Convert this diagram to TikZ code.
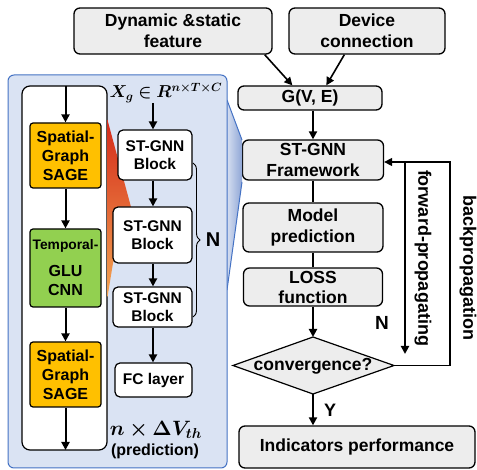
\documentclass[tikz,border=0pt]{standalone}
\usepackage{fontspec}
\setmainfont{Liberation Sans}
\usepackage{bm}
\usetikzlibrary{arrows.meta,decorations.pathreplacing,calc}
\definecolor{boxgray}{HTML}{EDEDED}
\definecolor{panelfill}{HTML}{DAE3F3}
\definecolor{panelline}{HTML}{4472C4}
\definecolor{sagefill}{HTML}{FFC000}
\definecolor{tempfill}{HTML}{92D050}
\definecolor{zoomlight}{HTML}{D5DEF0}
\definecolor{zoomdark}{HTML}{8FA6D6}
\definecolor{redtop}{HTML}{D42A1A}
\definecolor{redmid}{HTML}{E0452A}
\definecolor{orangebot}{HTML}{F3A552}
\begin{document}
\begin{tikzpicture}[x=1pt,y=-1pt,
 >={Triangle[length=8pt,width=8pt]},
 gbox/.style={draw,line width=1.3pt,rounded corners=6pt,fill=boxgray,align=center,inner sep=0pt,font=\bfseries\fontsize{17.5}{21}\selectfont},
 wbox/.style={draw,line width=1.2pt,rounded corners=5pt,fill=white,align=center,inner sep=0pt,font=\bfseries\fontsize{15.5}{18}\selectfont},
 cbox/.style={draw,line width=1.2pt,rounded corners=3pt,align=center,inner sep=0pt,minimum width=71pt,font=\bfseries\fontsize{16}{19}\selectfont},
 arr/.style={->,line width=2pt},
 lbl/.style={font=\bfseries\fontsize{18}{20}\selectfont,inner sep=0pt}
]
\useasboundingbox (0,0) rectangle (477,470);

% ---------- right column ----------
\node[gbox,minimum width=198pt,minimum height=46pt] (dyn) at (173,31) {Dynamic \&static\\feature};
\node[gbox,minimum width=156pt,minimum height=46pt] (dev) at (367,31) {Device\\connection};
\node[gbox,minimum width=144pt,minimum height=24pt] (gve) at (310,98) {G(V, E)};
\node[gbox,minimum width=141pt,minimum height=40pt] (fw) at (313,160) {ST-GNN\\Framework};
\node[gbox,minimum width=140pt,minimum height=49pt] (mp) at (313,227.5) {Model\\prediction};
\node[gbox,minimum width=139pt,minimum height=38pt,font=\bfseries\fontsize{17.5}{20}\selectfont] (loss) at (313,287) {LOSS\\function};

\coordinate (dT) at (313,337);
\coordinate (dB) at (313,394);
\coordinate (dL) at (233,365.5);
\coordinate (dR) at (394,365.5);
\draw[line width=1.2pt,fill=boxgray] (dT) -- (dR) -- (dB) -- (dL) -- cycle;
\node[lbl,font=\bfseries\fontsize{17.5}{20}\selectfont] (conv) at (313,366) {convergence?};

\node[gbox,minimum width=236pt,minimum height=42pt] (ind) at (357,447) {Indicators performance};

\draw[arr,line width=1.6pt] ($(dyn.south east)+(-8,0)$) -- ($(gve.north west)+(55,0)$);
\draw[arr,line width=1.6pt] ($(dev.south west)+(56,0)$) -- ($(gve.north west)+(89,0)$);
\draw[arr] (gve.south -| fw.north) -- (fw.north);
\draw[line width=2pt] (fw.south) -- (mp.north);
\draw[line width=2pt] (mp.south) -- (loss.north);
\draw[arr] (loss.south) -- (dT);
\draw[arr] (dB) -- (dB |- ind.north);
\node[lbl] (ylab) at (330,410) {Y};

\coordinate (bp1) at (450,365.5);
\coordinate (bp2) at (450,162);
\draw[->,line width=1.3pt] (dR) -- (bp1) -- (bp2) -- (bp2 -| fw.east);
\coordinate (fp1) at (405,162);
\coordinate (fp2) at (405,354);
\draw[arr,line width=2.2pt] (fp1) -- (fp2);
\node[lbl,rotate=-90] (fplab) at (423,258) {forward-propagating};
\node[lbl,rotate=-90] (bplab) at (468,268) {backpropagation};
\node[lbl,font=\bfseries\fontsize{19}{20}\selectfont] (nlab) at (382,323) {N};

% ---------- left panel ----------
\shade[left color=zoomlight,right color=zoomdark] (227,100) -- (242,140) -- (242,182) -- (227,290) -- cycle;
\draw[panelline,line width=1pt] (227,100) -- (242,140) (242,182) -- (227,290);
\node[draw=panelline,fill=panelfill,line width=1pt,rounded corners=6pt,minimum width=219pt,minimum height=393pt,inner sep=0pt] (panel) at (117.5,271.5) {};
\node[draw,fill=white,line width=1.2pt,rounded corners=8pt,minimum width=85pt,minimum height=364pt,inner sep=0pt] (inner) at (64.5,268) {};
\shade[top color=redtop,middle color=redmid,bottom color=orangebot] (107.5,120) -- (131,207) -- (113,263) -- (107.5,297) -- cycle;

\node[cbox,fill=sagefill,minimum height=65pt] (sage1) at (65.5,155.5) {Spatial-\\Graph\\SAGE};
\node[cbox,fill=tempfill,minimum height=78pt] (temp) at (65.5,268) {{\fontsize{13.8}{19}\selectfont Temporal-}\\[8pt]GLU\\CNN};
\node[cbox,fill=sagefill,minimum height=65pt] (sage2) at (65.5,374.5) {Spatial-\\Graph\\SAGE};
\coordinate (intop) at (65.5,86);
\coordinate (inbot) at (65.5,450);
\draw[arr] (intop) -- (sage1.north);
\draw[arr] (sage1.south) -- (temp.north);
\draw[arr] (temp.south) -- (sage2.north);
\draw[arr] (sage2.south) -- (inbot);

\node[inner sep=0pt,font=\fontsize{18}{20}\selectfont] (xg) at (166,93) {$\bm{X_g \in R^{n\times T\times C}}$};
\node[wbox,minimum width=74pt,minimum height=50pt] (b1) at (155,155) {ST-GNN\\Block};
\node[wbox,minimum width=79pt,minimum height=56pt] (b2) at (152.5,235) {ST-GNN\\Block};
\node[wbox,minimum width=79pt,minimum height=40pt] (b3) at (152.5,307) {ST-GNN\\Block};
\node[wbox,minimum width=77pt,minimum height=34pt] (fc) at (153.5,380) {FC layer};
\draw[arr] (xg.south -| 153,0) -- (b1.north -| 153,0);
\draw[arr] (b1.south -| 153,0) -- (b2.north -| 153,0);
\draw[arr] (b2.south -| 153,0) -- (b3.north -| 153,0);
\draw[arr] (b3.south -| 153,0) -- (fc.north -| 153,0);

\coordinate (brt) at (193,163);
\coordinate (brb) at (193,317);
\draw[line width=0.9pt,decorate,decoration={brace,amplitude=7pt}] (brt) -- (brb);
\node[lbl,font=\bfseries\fontsize{20}{20}\selectfont] (nblk) at (213,240) {N};

\node[inner sep=0pt,font=\fontsize{20}{22}\selectfont] (dv) at (156,430) {$\bm{n\times \Delta V_{th}}$};
\node[lbl,font=\bfseries\fontsize{16}{18}\selectfont] (pred) at (155,451) {(prediction)};
\end{tikzpicture}
\end{document}
